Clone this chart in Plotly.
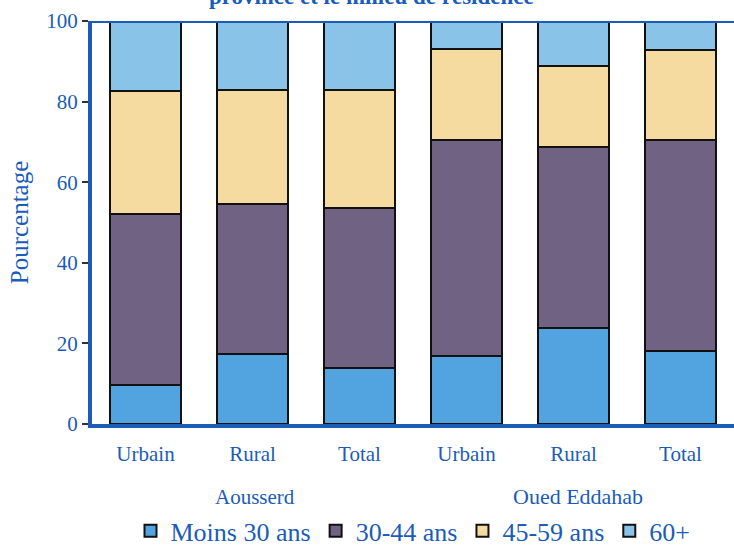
import plotly.graph_objects as go

categories = ["Urbain", "Rural", "Total", "Urbain ", "Rural ", "Total "]
tick_labels = ["Urbain", "Rural", "Total", "Urbain", "Rural", "Total"]
groups = ["Aousserd", "Oued Eddahab"]
moins30 = [9.7, 17.4, 13.9, 16.9, 23.9, 18.2]
a30_44 = [42.3, 37.3, 39.6, 53.5, 44.8, 52.2]
a45_59 = [30.6, 28.1, 29.3, 22.6, 20.1, 22.4]
a60p = [17.4, 17.2, 17.2, 7.0, 11.2, 7.2]
series_names = ["Moins 30 ans", "30-44 ans", "45-59 ans", "60+"]

colors = ["#52a4e0", "#6f6282", "#f6dba0", "#8ac3e8"]
blue = "#1a5cb8"
serif = "Liberation Serif, Times New Roman, serif"

fig = go.Figure()
for name, vals, col in zip(series_names, [moins30, a30_44, a45_59, a60p], colors):
    fig.add_trace(go.Bar(
        x=categories, y=vals, name=name,
        marker=dict(color=col, line=dict(color="#111111", width=2)),
        width=0.66,
    ))

fig.update_layout(
    width=734, height=547,
    barmode="stack",
    plot_bgcolor="white", paper_bgcolor="white",
    margin=dict(l=92, r=0, t=21, b=123, autoexpand=False),
    font=dict(family=serif, color=blue, size=21),
    showlegend=True,
    legend=dict(orientation="h", x=0.5, xanchor="center", y=-0.265, yanchor="middle",
                font=dict(size=26, color=blue), traceorder="normal",
                itemwidth=30, tracegroupgap=0),
    xaxis=dict(
        type="category", range=[-0.5, 5.5],
        tickvals=categories, ticktext=tick_labels,
        ticks="", showline=True, linecolor=blue, linewidth=4,
        mirror=False, showgrid=False, ticklabelstandoff=8, automargin=False,
        tickfont=dict(size=21, color=blue),
    ),
    yaxis=dict(
        range=[0, 100], tickvals=[0, 20, 40, 60, 80, 100],
        ticks="outside", ticklen=6, tickcolor="#333333", tickwidth=1.5,
        showline=True, linecolor=blue, linewidth=4, showgrid=False,
        zeroline=False, automargin=False, ticklabelstandoff=0,
        title=dict(text="Pourcentage", font=dict(size=25, color=blue), standoff=12),
        tickfont=dict(size=21, color=blue),
    ),
    annotations=[
        dict(text=groups[0], x=1.02, y=-0.18, xref="x", yref="paper", showarrow=False,
             font=dict(size=21, color=blue), yanchor="middle"),
        dict(text=groups[1], x=4.04, y=-0.18, xref="x", yref="paper", showarrow=False,
             font=dict(size=22, color=blue), yanchor="middle"),
        dict(text="<b>province et le milieu de résidence</b>", x=0.436, y=1.0, xref="paper",
             yref="paper", yshift=25, showarrow=False, yanchor="middle",
             font=dict(size=23, color=blue)),
    ],
    shapes=[
        dict(type="line", xref="paper", yref="y", x0=0, x1=1, y0=100, y1=100,
             line=dict(color=blue, width=4)),
    ],
)

fig.write_html("out.html", config={"displayModeBar": False},
               post_script="document.body.style.margin='0px';document.body.style.overflow='hidden';")
